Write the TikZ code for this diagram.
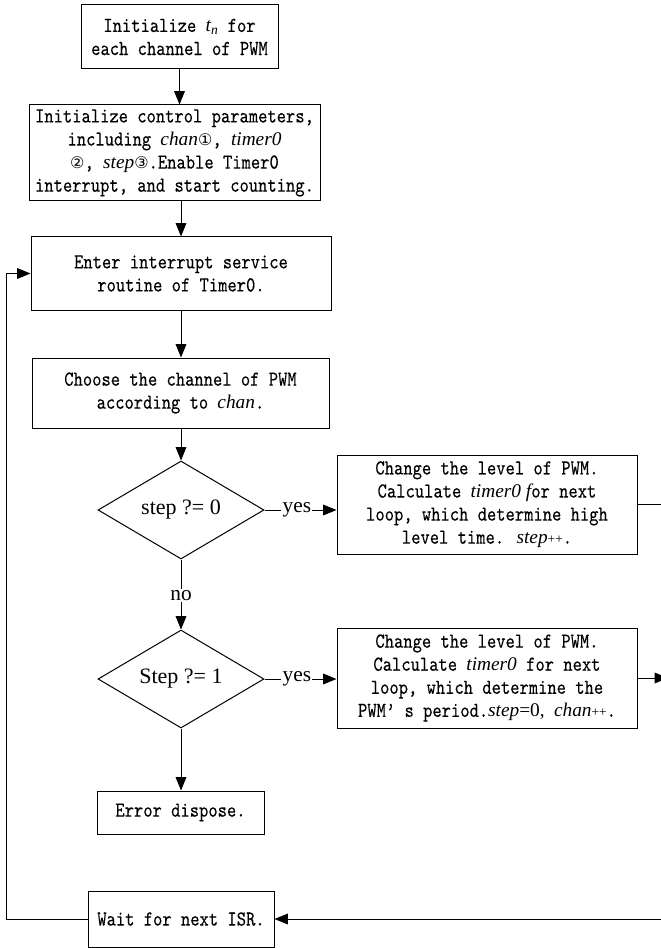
\documentclass[tikz,border=0pt]{standalone}
\usepackage{fontspec}
\usetikzlibrary{shapes.geometric,arrows.meta}
% typewriter face for the box texts, serif faces for variables and labels
\newfontfamily\monof{lmmono10-regular}[Extension=.otf, FakeStretch=0.83, FakeBold=0.2]
\newfontfamily\serf{Liberation Serif}
\newfontfamily\symf{DejaVu Sans}
\newcommand\mtxt{\monof\fontsize{16}{17.3}\selectfont}
\newcommand\iv[1]{{\serf\itshape\fontsize{14.5}{17.3}\selectfont #1}}
\newcommand\cn[1]{{\symf\fontsize{12}{12}\selectfont #1}}
\newcommand\pp{{\serf\fontsize{10}{10}\selectfont ++}}
\begin{document}
\begin{tikzpicture}[x=0.75pt,y=-0.75pt,
  box/.style={draw, line width=0.75pt, inner sep=0pt, align=center, font=\mtxt},
  dec/.style={diamond, draw, line width=0.75pt, aspect=1.7, inner sep=0pt,
    minimum width=124.5pt, minimum height=73.5pt,
    font={\serf\fontsize{16.5}{18}\selectfont}},
  arr/.style={-{Triangle[length=10pt,width=8pt]}, line width=0.75pt},
  ln/.style={line width=0.75pt},
  lbl/.style={fill=white, inner sep=1pt, font={\serf\fontsize{16}{18}\selectfont}}]
\useasboundingbox (0,0) rectangle (660,948);

% process boxes
\node[box, minimum width=147.75pt, minimum height=48pt] (b1) at (179.5,37)
  {Initialize \iv{t\textsubscript{n}} for\\each channel of PWM};
\node[box, minimum width=218.25pt, minimum height=72pt] (b2) at (174.5,153)
  {Initialize control parameters,\\including \iv{chan}\cn{①}, \iv{timer0}\\\cn{②}, \iv{step}\cn{③}.Enable Timer0\\interrupt, and start counting.};
\node[box, minimum width=225pt, minimum height=54.75pt] (b3) at (181,273.5)
  {Enter interrupt service\\routine of Timer0.};
\node[box, minimum width=222.75pt, minimum height=52.5pt] (b4) at (180.5,393)
  {Choose the channel of PWM\\according to \iv{chan}.};

% decisions
\node[dec] (d1) at (181,510) {step ?= 0};
\node[dec] (d2) at (181,679) {Step ?= 1};

% actions on the yes branches
\node[box, minimum width=225pt, minimum height=74.25pt] (a1) at (487,504.5)
  {Change the level of PWM.\\Calculate \iv{timer0 f}or next\\loop, which determine high\\level time. \iv{step}\pp.};
\node[box, minimum width=225pt, minimum height=75pt] (a2) at (487,678)
  {Change the level of PWM.\\Calculate \iv{timer0} for next\\loop, which determine the\\PWM’ s period.\iv{step}{\serf\fontsize{14.5}{17}\selectfont=0,} \iv{chan}\pp.};

\node[box, minimum width=125.25pt, minimum height=32.25pt] (err) at (180.5,812.5) {Error dispose.};
\node[box, minimum width=139.5pt, minimum height=42pt] (wait) at (181,919) {Wait for next ISR.};

% return paths
\coordinate (rt) at (668,0);
\coordinate (lft) at (6,0);

% connectors
\draw[arr] (b1.south) -- (b1.south |- b2.north);
\draw[arr] (b3.north |- b2.south) -- (b3.north);
\draw[arr] (b3.south) -- (b3.south |- b4.north);
\draw[arr] (b4.south -| d1.north) -- (d1.north);
\draw[arr] (d1.east) -- node[lbl, pos=0.45] {yes} (d1.east -| a1.west);
\draw[arr] (d1.south) -- node[lbl, pos=0.52] {no} (d2.north);
\draw[arr] (d2.east) -- node[lbl, pos=0.45] {yes} (d2.east -| a2.west);
\draw[arr] (d2.south) -- (d2.south |- err.north);
\draw[ln] (a1.east) -- (a1.east -| rt);
\draw[arr] (a2.east) -- (a2.east -| rt);
\draw[arr] (wait.east -| rt) -- (wait.east);
\draw[arr] (wait.west) -- (wait.west -| lft) |- (b3.west);
\end{tikzpicture}
\end{document}
